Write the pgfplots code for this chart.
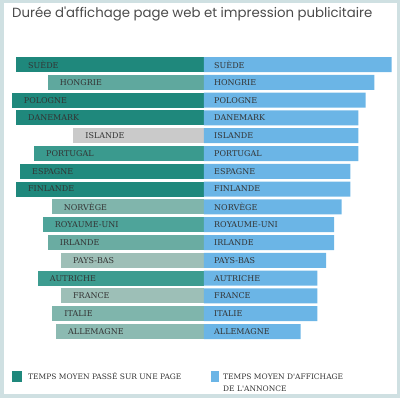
\documentclass[border=0pt]{standalone}
\usepackage{fontspec}
\usepackage{pgfplots}
\pgfplotsset{compat=1.18}
\newfontfamily\titlefont{Poppins}
\newfontfamily\labfont{DejaVu Serif}
\definecolor{c1}{HTML}{1F887C}
\definecolor{c2}{HTML}{5FA89E}
\definecolor{c3}{HTML}{1F887C}
\definecolor{c4}{HTML}{1F887C}
\definecolor{c5}{HTML}{CACACA}
\definecolor{c6}{HTML}{3A9A8E}
\definecolor{c7}{HTML}{218A7E}
\definecolor{c8}{HTML}{1F887C}
\definecolor{c9}{HTML}{80B5AC}
\definecolor{c10}{HTML}{4EA49A}
\definecolor{c11}{HTML}{6AACA2}
\definecolor{c12}{HTML}{9EBFB7}
\definecolor{c13}{HTML}{3D9C90}
\definecolor{c14}{HTML}{9DBFB7}
\definecolor{c15}{HTML}{7FB5AC}
\definecolor{c16}{HTML}{8CBAB2}
\definecolor{adblue}{HTML}{6BB5E6}
\definecolor{framecol}{HTML}{CFE0E2}
\definecolor{titlegray}{HTML}{4A4A4A}
\definecolor{labgray}{HTML}{333333}
\begin{document}
\begin{tikzpicture}
\pgfplotsset{
  base/.style={
    scale only axis, hide axis, clip=false,
    height=398pt, ymin=0, ymax=398, y dir=reverse,
    xbar, bar shift=0pt, bar width=15,
    anchor=north west,
  },
}
% left: average time spent on a page
\begin{axis}[base, at={(0pt,0pt)}, width=204pt, xmin=0, xmax=204, x dir=reverse,
  every axis plot/.append style={draw=none},
  nodes near coords align={anchor=west},
  every node near coord/.append style={font=\labfont\fontsize{8}{9}\selectfont, text=labgray, inner sep=0pt, xshift=12pt}]
\addplot[fill=c1, nodes near coords={SUÈDE}] coordinates {(188,64.5)};
\addplot[fill=c2, nodes near coords={HONGRIE}] coordinates {(156.3,82.3)};
\addplot[fill=c3, nodes near coords={POLOGNE}] coordinates {(192.3,100.1)};
\addplot[fill=c4, nodes near coords={DANEMARK}] coordinates {(188,117.9)};
\addplot[fill=c5, nodes near coords={ISLANDE}] coordinates {(130.7,135.7)};
\addplot[fill=c6, nodes near coords={PORTUGAL}] coordinates {(170,153.5)};
\addplot[fill=c7, nodes near coords={ESPAGNE}] coordinates {(184,171.3)};
\addplot[fill=c8, nodes near coords={FINLANDE}] coordinates {(188,189.1)};
\addplot[fill=c9, nodes near coords={NORVÈGE}] coordinates {(152.3,206.9)};
\addplot[fill=c10, nodes near coords={ROYAUME-UNI}] coordinates {(161.3,224.7)};
\addplot[fill=c11, nodes near coords={IRLANDE}] coordinates {(156.3,242.5)};
\addplot[fill=c12, nodes near coords={PAYS-BAS}] coordinates {(143,260.3)};
\addplot[fill=c13, nodes near coords={AUTRICHE}] coordinates {(166.3,278.1)};
\addplot[fill=c14, nodes near coords={FRANCE}] coordinates {(143,295.9)};
\addplot[fill=c15, nodes near coords={ITALIE}] coordinates {(151.7,313.7)};
\addplot[fill=c16, nodes near coords={ALLEMAGNE}] coordinates {(148,331.5)};
\end{axis}
% right: average ad display time
\begin{axis}[base, at={(204pt,0pt)}, width=196pt, xmin=0, xmax=196]
\addplot[fill=adblue, draw=none] coordinates {
(187.7,64.5) (170.3,82.3) (161.7,100.1) (154.3,117.9) (154.3,135.7) (154.3,153.5)
(146.3,171.3) (146.3,189.1) (137.7,206.9) (130,224.7) (130,242.5) (122,260.3)
(113.3,278.1) (113.3,295.9) (113.3,313.7) (96.7,331.5)};
\addplot[only marks, mark=none, nodes near coords, point meta=explicit symbolic,
  nodes near coords align={anchor=west},
  every node near coord/.append style={font=\labfont\fontsize{8}{9}\selectfont, text=labgray, inner sep=0pt}]
  table[x=x, y=y, meta=lab, col sep=semicolon] {
x;y;lab
10;64.5;SUÈDE
10;82.3;HONGRIE
10;100.1;POLOGNE
10;117.9;DANEMARK
10;135.7;ISLANDE
10;153.5;PORTUGAL
10;171.3;ESPAGNE
10;189.1;FINLANDE
10;206.9;NORVÈGE
10;224.7;ROYAUME-UNI
10;242.5;IRLANDE
10;260.3;PAYS-BAS
10;278.1;AUTRICHE
10;295.9;FRANCE
10;313.7;ITALIE
10;331.5;ALLEMAGNE
};
\end{axis}
% title
\node[anchor=base west, inner sep=0pt, text=titlegray, font=\titlefont\fontsize{13.3}{15}\selectfont] at (12pt,-18pt) {Durée d'affichage page web et impression publicitaire};
% legend
\fill[c1] (12pt,-371pt) rectangle (22pt,-382pt);
\node[anchor=base west, inner sep=0pt, text=labgray, font=\labfont\fontsize{7.5}{9}\selectfont] at (28pt,-380pt) {TEMPS MOYEN PASSÉ SUR UNE PAGE};
\fill[adblue] (211pt,-371pt) rectangle (219pt,-382pt);
\node[anchor=base west, inner sep=0pt, text=labgray, font=\labfont\fontsize{7.5}{9}\selectfont] at (223pt,-380pt) {TEMPS MOYEN D'AFFICHAGE};
\node[anchor=base west, inner sep=0pt, text=labgray, font=\labfont\fontsize{7.5}{9}\selectfont] at (223pt,-391.5pt) {DE L'ANNONCE};
% frame
\draw[framecol, line width=3.5pt] (1.75pt,-1.75pt) rectangle (398.25pt,-396.25pt);
\end{tikzpicture}
\end{document}
